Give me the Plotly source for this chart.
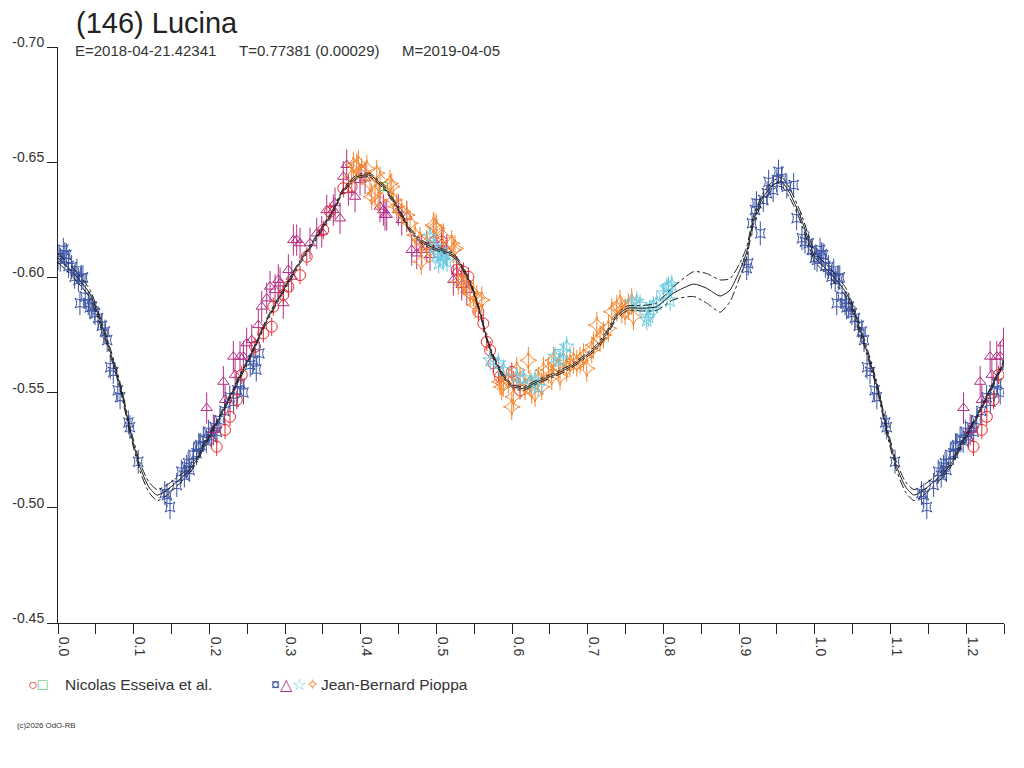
import plotly.graph_objects as go

# ---- fitted light curve ----
curve_phase = [0.000, 0.020, 0.042, 0.064, 0.082, 0.095, 0.108, 0.120, 0.131, 0.144,
               0.157, 0.170, 0.183, 0.192, 0.214, 0.236, 0.258, 0.276, 0.298, 0.320,
               0.342, 0.364, 0.377, 0.395, 0.412, 0.430, 0.448, 0.465, 0.483, 0.505,
               0.522, 0.531, 0.545, 0.558, 0.567, 0.575, 0.589, 0.602, 0.615, 0.633,
               0.655, 0.677, 0.699, 0.712, 0.725, 0.738, 0.752, 0.774, 0.791, 0.813,
               0.840, 0.857, 0.875, 0.888, 0.901, 0.910, 0.919, 0.932, 0.945, 0.956,
               0.967, 0.981, 0.994, 1.000]
curve_mag = [-0.6085, -0.6020, -0.5930, -0.5730, -0.5530, -0.5340, -0.5180, -0.5090, -0.5055, -0.5077,
             -0.5113, -0.5150, -0.5207, -0.5265, -0.5395, -0.5540, -0.5685, -0.5815, -0.5945, -0.6068,
             -0.6177, -0.6292, -0.6379, -0.6437, -0.6444, -0.6394, -0.6307, -0.6206, -0.6148, -0.6119,
             -0.6097, -0.6061, -0.5975, -0.5844, -0.5728, -0.5656, -0.5569, -0.5525, -0.5518, -0.5547,
             -0.5576, -0.5612, -0.5663, -0.5699, -0.5757, -0.5829, -0.5866, -0.5866, -0.5873, -0.5931,
             -0.5971, -0.5953, -0.5919, -0.5945, -0.6032, -0.6110, -0.6249, -0.6350, -0.6401, -0.6415,
             -0.6365, -0.6264, -0.6140, -0.6085]
curve_spread = [0.0020, 0.0020, 0.0018, 0.0015, 0.0015, 0.0015, 0.0018, 0.0022, 0.0024, 0.0022,
                0.0018, 0.0014, 0.0012, 0.0010, 0.0008, 0.0008, 0.0008, 0.0008, 0.0008, 0.0008,
                0.0008, 0.0008, 0.0008, 0.0008, 0.0008, 0.0008, 0.0008, 0.0008, 0.0008, 0.0008,
                0.0008, 0.0008, 0.0008, 0.0008, 0.0008, 0.0008, 0.0008, 0.0008, 0.0008, 0.0008,
                0.0008, 0.0008, 0.0008, 0.0010, 0.0010, 0.0010, 0.0010, 0.0012, 0.0016, 0.0028,
                0.0054, 0.0064, 0.0070, 0.0050, 0.0030, 0.0022, 0.0018, 0.0018, 0.0018, 0.0020,
                0.0020, 0.0020, 0.0020, 0.0020]

# ---- observations ----
blue_phase = [0.000, 0.003, 0.007, 0.009, 0.011, 0.014, 0.018, 0.022, 0.025, 0.027,
              0.029, 0.031, 0.033, 0.036, 0.040, 0.042, 0.045, 0.049, 0.053, 0.058,
              0.062, 0.065, 0.069, 0.073, 0.079, 0.082, 0.093, 0.095, 0.106, 0.141,
              0.144, 0.148, 0.157, 0.163, 0.167, 0.170, 0.172, 0.174, 0.179, 0.183,
              0.186, 0.188, 0.192, 0.196, 0.199, 0.203, 0.207, 0.210, 0.214, 0.220,
              0.227, 0.232, 0.237, 0.241, 0.245, 0.254, 0.258, 0.262, 0.266, 0.910,
              0.912, 0.917, 0.921, 0.923, 0.928, 0.932, 0.937, 0.939, 0.945, 0.950,
              0.952, 0.956, 0.963, 0.972, 0.976, 0.983, 0.987, 0.992, 0.996]
blue_mag = [-0.6084, -0.6076, -0.6120, -0.6100, -0.6097, -0.6050, -0.6045, -0.6003, -0.6030, -0.5989,
            -0.5888, -0.5996, -0.6000, -0.5916, -0.5888, -0.5870, -0.5873, -0.5845, -0.5824, -0.5790,
            -0.5765, -0.5728, -0.5610, -0.5590, -0.5510, -0.5480, -0.5370, -0.5350, -0.5200, -0.5064,
            -0.5055, -0.5003, -0.5099, -0.5157, -0.5140, -0.5178, -0.5193, -0.5164, -0.5230, -0.5237,
            -0.5265, -0.5272, -0.5300, -0.5290, -0.5330, -0.5310, -0.5350, -0.5330, -0.5380, -0.5420,
            -0.5480, -0.5460, -0.5510, -0.5540, -0.5500, -0.5620, -0.5640, -0.5600, -0.5670, -0.6040,
            -0.6061, -0.6235, -0.6293, -0.6322, -0.6191, -0.6336, -0.6365, -0.6415, -0.6379, -0.6423,
            -0.6459, -0.6430, -0.6394, -0.6401, -0.6257, -0.6170, -0.6155, -0.6148, -0.6119]

magenta_phase = [0.1965, 0.2053, 0.2185, 0.2207, 0.2317, 0.2340, 0.2405, 0.2450, 0.2493, 0.2560,
                 0.2647, 0.2692, 0.2758, 0.2802, 0.2868, 0.2911, 0.2934, 0.2977, 0.3044, 0.3088,
                 0.3110, 0.3154, 0.3198, 0.3330, 0.3419, 0.3485, 0.3551, 0.3638, 0.3660, 0.3727,
                 0.3770, 0.3815, 0.3837, 0.3925, 0.3991, 0.4057, 0.4255, 0.4300, 0.4321, 0.4344,
                 0.4497, 0.4542, 0.4608, 0.4674, 0.4740, 0.4806, 0.4872, 0.4916, 0.4960, 0.5070,
                 0.5137, 0.5224, 0.5269, 0.5335, 0.5401]
magenta_mag = [-0.5433, -0.5338, -0.5547, -0.5468, -0.5656, -0.5577, -0.5656, -0.5656, -0.5714, -0.5728,
               -0.5793, -0.5873, -0.5909, -0.5960, -0.5945, -0.5989, -0.5974, -0.5888, -0.6032, -0.6003,
               -0.6162, -0.6162, -0.6148, -0.6148, -0.6191, -0.6198, -0.6292, -0.6292, -0.6322, -0.6256,
               -0.6437, -0.6488, -0.6379, -0.6350, -0.6423, -0.6430, -0.6307, -0.6292, -0.6271, -0.6271,
               -0.6292, -0.6249, -0.6264, -0.6119, -0.6104, -0.6119, -0.6133, -0.6097, -0.6162, -0.6148,
               -0.6119, -0.5989, -0.6025, -0.5967, -0.5945]

red_phase = [0.2097, 0.2207, 0.2273, 0.2362, 0.2428, 0.2603, 0.2713, 0.2824, 0.2845, 0.2977,
             0.3044, 0.3198, 0.3287, 0.3506, 0.3595, 0.3770, 0.3880, 0.5070, 0.5269, 0.5357,
             0.5423, 0.5555, 0.5620, 0.5666, 0.5710, 0.5753, 0.5820, 0.5840, 0.5996, 0.6017,
             0.6105]
red_mag = [-0.5265, -0.5338, -0.5395, -0.5468, -0.5577, -0.5699, -0.5757, -0.5786, -0.5873, -0.5924,
           -0.5960, -0.6010, -0.6090, -0.6206, -0.6285, -0.6387, -0.6394, -0.6155, -0.6032, -0.6025,
           -0.6003, -0.5851, -0.5800, -0.5720, -0.5684, -0.5627, -0.5590, -0.5569, -0.5590, -0.5554,
           -0.5510]

green_phase = [0.430]
green_mag = [-0.6394]

orange_phase = [0.3880, 0.3903, 0.3947, 0.3969, 0.4013, 0.4080, 0.4123, 0.4145, 0.4189, 0.4212,
                0.4230, 0.4255, 0.4387, 0.4410, 0.4431, 0.4476, 0.4542, 0.4608, 0.4652, 0.4718,
                0.4784, 0.4800, 0.4872, 0.4916, 0.4960, 0.4982, 0.5004, 0.5092, 0.5203, 0.5224,
                0.5246, 0.5290, 0.5357, 0.5379, 0.5445, 0.5489, 0.5511, 0.5533, 0.5600, 0.5840,
                0.5863, 0.5885, 0.5951, 0.5996, 0.6017, 0.6062, 0.6105, 0.6172, 0.6215, 0.6237,
                0.6260, 0.6304, 0.6347, 0.6392, 0.6414, 0.6480, 0.6524, 0.6546, 0.6612, 0.6634,
                0.6678, 0.6722, 0.6766, 0.6810, 0.6855, 0.6898, 0.6943, 0.6987, 0.7053, 0.7075,
                0.7120, 0.7163, 0.7207, 0.7273, 0.7317, 0.7383, 0.7427, 0.7450, 0.7493, 0.7537,
                0.7581, 0.7603]
orange_mag = [-0.6437, -0.6488, -0.6481, -0.6495, -0.6459, -0.6473, -0.6408, -0.6350, -0.6365, -0.6452,
              -0.6336, -0.6423, -0.6408, -0.6394, -0.6336, -0.6307, -0.6285, -0.6271, -0.6235, -0.6184,
              -0.6162, -0.6068, -0.6148, -0.6119, -0.6227, -0.6220, -0.6213, -0.6177, -0.6148, -0.6119,
              -0.6126, -0.5981, -0.5981, -0.5975, -0.5931, -0.5931, -0.5880, -0.5909, -0.5902, -0.5547,
              -0.5525, -0.5540, -0.5554, -0.5438, -0.5482, -0.5598, -0.5554, -0.5525, -0.5640, -0.5540,
              -0.5510, -0.5496, -0.5554, -0.5525, -0.5598, -0.5598, -0.5569, -0.5640, -0.5612, -0.5569,
              -0.5640, -0.5605, -0.5627, -0.5640, -0.5627, -0.5640, -0.5656, -0.5605, -0.5685, -0.5706,
              -0.5793, -0.5735, -0.5750, -0.5779, -0.5851, -0.5866, -0.5888, -0.5858, -0.5851, -0.5873,
              -0.5895, -0.5829]

cyan_phase = [0.4916, 0.4980, 0.5010, 0.5030, 0.5050, 0.5090, 0.5120, 0.5140, 0.5710, 0.5820,
              0.5885, 0.6062, 0.6150, 0.6260, 0.6304, 0.6347, 0.6568, 0.6634, 0.6678, 0.6722,
              0.7581, 0.7647, 0.7691, 0.7780, 0.7800, 0.7823, 0.7867, 0.7910, 0.7999, 0.8044,
              0.8066, 0.8088, 0.8110]
cyan_mag = [-0.6177, -0.6133, -0.6105, -0.6062, -0.6090, -0.6075, -0.6100, -0.6068, -0.5640, -0.5627,
            -0.5598, -0.5569, -0.5562, -0.5540, -0.5554, -0.5525, -0.5656, -0.5640, -0.5677, -0.5700,
            -0.5888, -0.5895, -0.5880, -0.5815, -0.5830, -0.5858, -0.5873, -0.5888, -0.5931, -0.5953,
            -0.5960, -0.5900, -0.5967]

# typical error bar half length per observer/session
blue_err = 0.0052
magenta_err = 0.0068
red_err = 0.0040
green_err = 0.0020
orange_err = 0.0058
cyan_err = 0.0045

y_ticks = [-0.70, -0.65, -0.60, -0.55, -0.50, -0.45]

FONT = "Liberation Sans, Arial, sans-serif"
W, H = 1024, 768
# plot area as it should appear on screen
SX0, SY0, SX1, SY1 = 58, 47, 1004, 623
# the page puts the figure 8 px right/down, so margins compensate
L, T = SX0 - 8, SY0 - 8
R = W - L - (SX1 - SX0)
B = H - T - (SY1 - SY0)


def wrap(phase, mag, upto=0.27):
    # the chart repeats the start of the phase curve after 1.0
    xs = list(phase) + [p + 1 for p in phase if p <= upto]
    ys = list(mag) + [m for p, m in zip(phase, mag) if p <= upto]
    return xs, ys


def add_obs(fig, phase, mag, err, color, symbol, size):
    xs, ys = wrap(phase, mag)
    fig.add_trace(go.Scatter(
        x=xs, y=ys, mode="markers",
        marker=dict(symbol=symbol, size=size, color=color, line=dict(width=1, color=color)),
        error_y=dict(type="constant", value=err, color=color, thickness=1, width=0),
        showlegend=False, hoverinfo="skip",
    ))


fig = go.Figure()

add_obs(fig, blue_phase, blue_mag, blue_err, "#3a52a3", "star-square-open", 9)
add_obs(fig, magenta_phase, magenta_mag, magenta_err, "#b32f86", "triangle-up-open", 10)
add_obs(fig, red_phase, red_mag, red_err, "#ec2a2e", "circle-open", 11)
add_obs(fig, green_phase, green_mag, green_err, "#4bb748", "square-open", 8)
add_obs(fig, orange_phase, orange_mag, orange_err, "#f5862e", "star-diamond-open", 12)
add_obs(fig, cyan_phase, cyan_mag, cyan_err, "#6ccbe0", "star-open", 11)

cx, cy = wrap(curve_phase, curve_mag, 0.28)
upper = [m - s for m, s in zip(curve_mag, curve_spread)]
lower = [m + s for m, s in zip(curve_mag, curve_spread)]
_, uy = wrap(curve_phase, upper, 0.28)
_, ly = wrap(curve_phase, lower, 0.28)
order = sorted(range(len(cx)), key=lambda i: cx[i])
cx = [cx[i] for i in order]
for vals, dash in ((uy, "dashdot"), (ly, "dashdot"), (cy, "solid")):
    fig.add_trace(go.Scatter(
        x=cx, y=[vals[i] for i in order], mode="lines",
        line=dict(color="#1e1e1e", width=1, dash=dash, shape="spline", smoothing=0.6),
        showlegend=False, hoverinfo="skip",
    ))


def px(x, y):
    return (x - SX0) / (SX1 - SX0), (SY1 - y) / (SY1 - SY0)


def note(text, x, y, size, color="#333333"):
    ax, ay = px(x, y)
    fig.add_annotation(text=text, x=ax, y=ay, xref="paper", yref="paper",
                       xanchor="left", yanchor="middle", showarrow=False, borderpad=0,
                       font=dict(family=FONT, size=size, color=color))


note("(146) Lucina", 75, 23, 29, "#222222")
note("E=2018-04-21.42341", 74, 50, 15)
note("T=0.77381 (0.00029)", 238, 50, 15)
note("M=2019-04-05", 401, 50, 15)

note("<span style='color:#ec2a2e'>○</span><span style='color:#4bb748'>□</span>", 27, 684, 16)
note("Nicolas Esseiva et al.", 64, 684, 15.5)
note("<span style='color:#3a52a3'>¤</span><span style='color:#b32f86'>△</span>"
     "<span style='color:#6ccbe0'>☆</span><span style='color:#f5862e'>✧</span>", 270, 684, 16)
note("Jean-Bernard Pioppa", 320, 684, 15.5)
note("(c)2026 OdO-RB", 16, 725, 7.8)

fig.update_layout(
    width=W, height=H,
    margin=dict(l=L, r=R, t=T, b=B, autoexpand=False),
    paper_bgcolor="white", plot_bgcolor="white",
    font=dict(family=FONT, size=14, color="#333333"),
    showlegend=False,
)
fig.update_xaxes(
    range=[0, 1.25], tick0=0, dtick=0.1, tickformat=".1f", tickangle=90,
    ticks="outside", ticklen=10, tickcolor="#222222", ticklabelshift=6,
    minor=dict(dtick=0.05, ticks="outside", ticklen=10, tickcolor="#222222"),
    showline=True, linecolor="#222222", linewidth=1,
    showgrid=False, zeroline=False, automargin=False,
)
fig.update_yaxes(
    range=[-0.45, -0.70], tickvals=y_ticks, ticktext=[f"{v:.2f}" for v in y_ticks],
    ticks="outside", ticklen=10, tickcolor="#222222", ticklabelshift=5,
    showline=True, linecolor="#222222", linewidth=1,
    showgrid=False, zeroline=False, automargin=False,
)

fig.write_html("out.html")
